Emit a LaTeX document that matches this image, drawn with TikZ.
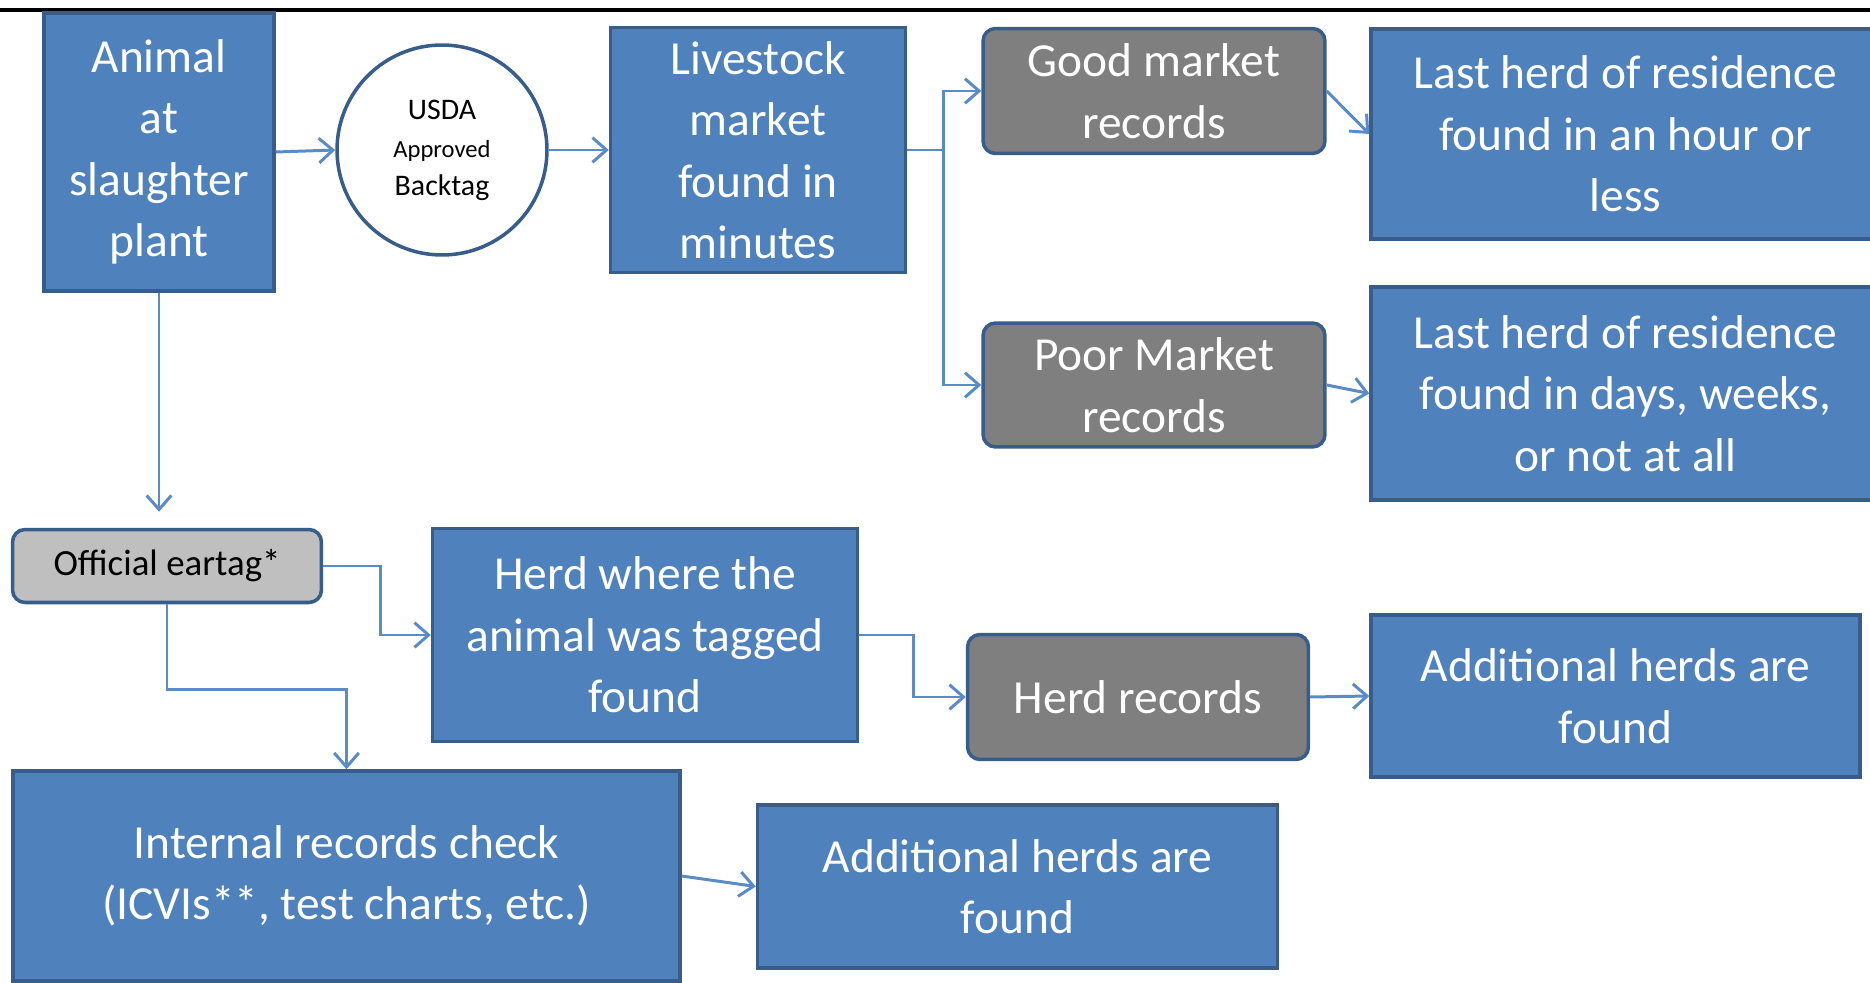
\documentclass[tikz,border=0pt]{standalone}
\usepackage{fontspec}
\setmainfont{Carlito}
\usetikzlibrary{shapes,arrows.meta,positioning}
\definecolor{BoxBlue}{HTML}{4F81BD}
\definecolor{EdgeBlue}{HTML}{385D8A}
\definecolor{LineBlue}{HTML}{5B8BC6}
\definecolor{DarkGray}{HTML}{7F7F7F}
\definecolor{LightGray}{HTML}{BFBFBF}
\tikzstyle{Block} = [draw=EdgeBlue, line width=2pt, fill=BoxBlue, rectangle, text=white, align=center, inner sep=0pt, font=\fontsize{27}{35}\selectfont]
\tikzstyle{Records} = [Block, fill=DarkGray, rounded corners=0.25cm]
\tikzstyle{Tag} = [Records, fill=LightGray, text=black, font=\fontsize{21}{25}\selectfont]
\tikzstyle{Seal} = [draw=EdgeBlue, line width=2pt, fill=white, circle, align=center, inner sep=0pt, font=\fontsize{17}{21.6}\selectfont]
\tikzstyle{Link} = [draw=LineBlue, line width=1.7pt, -{Straight Barb[length=8pt,width=14pt]}]

\begin{document}
\begin{tikzpicture}[x=0.02cm, y=-0.02cm]
    \useasboundingbox (0,0) rectangle (1870,983);
    \draw[line width=2pt] (0,10) -- (1870,10);

    \node[Block]   (animal)    at (159,152)    [minimum width=4.6cm, minimum height=5.56cm]  {Animal\\at\\slaughter\\plant};
    \node[Seal]    (usda)      at (442,150)    [minimum size=4.2cm]                        {USDA\\{\fontsize{14}{21.6}\selectfont Approved}\\Backtag};
    \node[Block]   (livestock) at (758,150)    [minimum width=5.9cm, minimum height=4.9cm]   {Livestock\\market\\found in\\minutes};
    \node[Records] (good)      at (1154,91)    [minimum width=6.84cm, minimum height=2.5cm]  {Good market\\records};
    \node[Records] (poor)      at (1154,385)   [minimum width=6.84cm, minimum height=2.48cm] {Poor Market\\records};
    \node[Block]   (last1)     at (1625.5,134) [minimum width=10.18cm, minimum height=4.2cm] {Last herd of residence\\found in an hour or\\less};
    \node[Block]   (last2)     at (1625.5,393.5) [minimum width=10.18cm, minimum height=4.26cm] {Last herd of residence\\found in days, weeks,\\or not at all};
    \node[Tag]     (eartag)    at (167,566)    [minimum width=6.18cm, minimum height=1.46cm] {Official eartag*};
    \node[Block]   (herdwhere) at (645,635)    [minimum width=8.5cm, minimum height=4.26cm]  {Herd where the\\animal was tagged\\found};
    \node[Records] (herdrec)   at (1138,697)   [minimum width=6.82cm, minimum height=2.5cm]  {Herd records};
    \node[Block]   (addright)  at (1615.5,696) [minimum width=9.78cm, minimum height=3.24cm] {Additional herds are\\found};
    \node[Block]   (internal)  at (346.5,876)  [minimum width=13.34cm, minimum height=4.2cm] {Internal records check\\(ICVIs**, test charts, etc.)};
    \node[Block]   (addbottom) at (1017.5,886.5) [minimum width=10.4cm, minimum height=3.26cm] {Additional herds are\\found};

    \coordinate (split) at (943,150);
    \draw[Link] (animal.east) -- (usda.west);
    \draw[Link] (usda.east) -- (livestock.west);
    \draw[draw=LineBlue, line width=1.7pt] (livestock.east) -- (split);
    \draw[Link] (split) |- (good.west);
    \draw[Link] (split) |- (poor.west);
    \draw[Link] (good.east) -- (last1.west);
    \draw[Link] (poor.east) -- (last2.west);
    \draw[Link, shorten >=0.32cm] (animal.south) -- (animal.south |- eartag.north);
    \draw[Link] (eartag.east) -- ++(57,0) |- (herdwhere.west);
    \draw[Link] (eartag.south) -- ++(0,85) -| (internal.north);
    \draw[Link] (herdwhere.east) -- ++(54,0) |- (herdrec.west);
    \draw[Link] (herdrec.east) -- (addright.west);
    \draw[Link] (internal.east) -- (addbottom.west);
\end{tikzpicture}
\end{document}
